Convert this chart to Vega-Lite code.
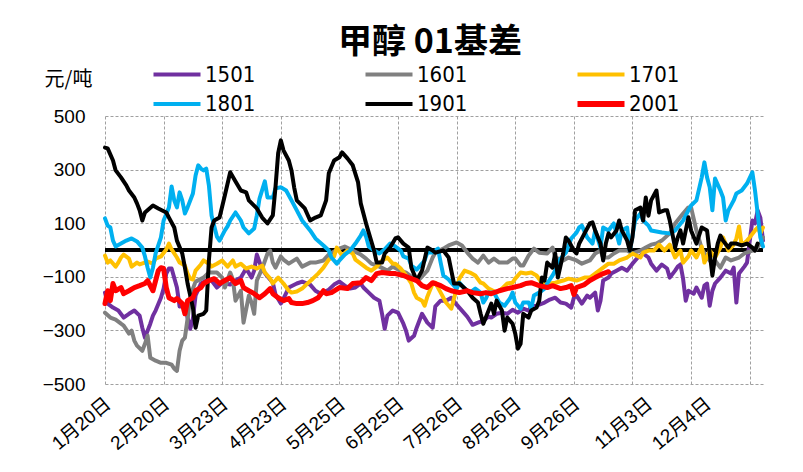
{
"$schema":"https://vega.github.io/schema/vega-lite/v6.json",
"width":658,"height":268,
"autosize":{"type":"none"},
"padding":{"left":105,"top":116,"right":40,"bottom":88},
"background":"white",
"title":{"text":"甲醇 01基差","font":"Noto Sans CJK SC","fontSize":34,"fontWeight":"bold","color":"#000","anchor":"middle","offset":3,"dx":-4},
"datasets":{
"zero":[{"i":0,"v":0},{"i":247,"v":0}],
"s1501":[{"i":0,"v":-159},{"i":1,"v":-200},{"i":3,"v":-215},{"i":5,"v":-226},{"i":7,"v":-252},{"i":9,"v":-238},{"i":11,"v":-226},{"i":13,"v":-245},{"i":14,"v":-290},{"i":15,"v":-327},{"i":17,"v":-275},{"i":18,"v":-245},{"i":19,"v":-226},{"i":21,"v":-178},{"i":22,"v":-144},{"i":23,"v":-88},{"i":24,"v":-69},{"i":25,"v":-69},{"i":27,"v":-140},{"i":28,"v":-211},{"i":29,"v":-208},{"i":30,"v":-208},{"i":31,"v":-252},{"i":32,"v":-294},{"i":33,"v":-256},{"i":34,"v":-170},{"i":36,"v":-125},{"i":38,"v":-114},{"i":40,"v":-114},{"i":42,"v":-140},{"i":44,"v":-122},{"i":47,"v":-129},{"i":49,"v":-114},{"i":51,"v":-103},{"i":53,"v":-69},{"i":55,"v":-103},{"i":56,"v":-77},{"i":57,"v":-17},{"i":59,"v":-73},{"i":61,"v":-99},{"i":63,"v":-122},{"i":64,"v":-166},{"i":66,"v":-200},{"i":67,"v":-181},{"i":69,"v":-140},{"i":72,"v":-125},{"i":74,"v":-118},{"i":77,"v":-129},{"i":79,"v":-152},{"i":81,"v":-163},{"i":84,"v":-148},{"i":86,"v":-129},{"i":88,"v":-118},{"i":90,"v":-133},{"i":92,"v":-144},{"i":94,"v":-140},{"i":96,"v":-125},{"i":97,"v":-140},{"i":99,"v":-159},{"i":101,"v":-178},{"i":103,"v":-189},{"i":104,"v":-238},{"i":105,"v":-294},{"i":106,"v":-245},{"i":108,"v":-226},{"i":110,"v":-234},{"i":112,"v":-275},{"i":113,"v":-301},{"i":114,"v":-338},{"i":116,"v":-320},{"i":117,"v":-290},{"i":119,"v":-238},{"i":121,"v":-271},{"i":123,"v":-290},{"i":124,"v":-210},{"i":126,"v":-189},{"i":128,"v":-189},{"i":130,"v":-178},{"i":132,"v":-204},{"i":134,"v":-226},{"i":136,"v":-249},{"i":138,"v":-279},{"i":140,"v":-271},{"i":142,"v":-264},{"i":144,"v":-249},{"i":145,"v":-252},{"i":147,"v":-238},{"i":149,"v":-234},{"i":151,"v":-238},{"i":153,"v":-223},{"i":155,"v":-234},{"i":157,"v":-219},{"i":159,"v":-226},{"i":160,"v":-211},{"i":162,"v":-208},{"i":165,"v":-196},{"i":167,"v":-185},{"i":169,"v":-178},{"i":171,"v":-196},{"i":173,"v":-200},{"i":175,"v":-215},{"i":176,"v":-178},{"i":177,"v":-170},{"i":179,"v":-200},{"i":181,"v":-170},{"i":182,"v":-178},{"i":184,"v":-159},{"i":185,"v":-226},{"i":186,"v":-189},{"i":187,"v":-114},{"i":189,"v":-103},{"i":190,"v":-88},{"i":192,"v":-77},{"i":194,"v":-66},{"i":196,"v":-77},{"i":198,"v":-51},{"i":200,"v":-28},{"i":202,"v":-13},{"i":204,"v":-28},{"i":205,"v":-51},{"i":207,"v":-77},{"i":209,"v":-54},{"i":211,"v":-69},{"i":212,"v":-103},{"i":214,"v":-77},{"i":215,"v":-62},{"i":216,"v":-54},{"i":217,"v":-107},{"i":218,"v":-189},{"i":219,"v":-152},{"i":221,"v":-163},{"i":222,"v":-140},{"i":224,"v":-178},{"i":225,"v":-133},{"i":226,"v":-125},{"i":227,"v":-208},{"i":228,"v":-152},{"i":229,"v":-125},{"i":231,"v":-103},{"i":233,"v":-77},{"i":235,"v":-88},{"i":236,"v":-66},{"i":237,"v":-196},{"i":238,"v":-88},{"i":240,"v":-62},{"i":241,"v":-47},{"i":243,"v":110},{"i":244,"v":99},{"i":245,"v":148},{"i":246,"v":121},{"i":247,"v":35}],
"s1601":[{"i":0,"v":-234},{"i":2,"v":-252},{"i":4,"v":-260},{"i":6,"v":-275},{"i":7,"v":-282},{"i":9,"v":-312},{"i":10,"v":-301},{"i":11,"v":-338},{"i":12,"v":-357},{"i":14,"v":-376},{"i":15,"v":-350},{"i":16,"v":-320},{"i":17,"v":-402},{"i":19,"v":-413},{"i":21,"v":-421},{"i":23,"v":-421},{"i":25,"v":-428},{"i":26,"v":-443},{"i":27,"v":-451},{"i":28,"v":-376},{"i":29,"v":-338},{"i":30,"v":-327},{"i":31,"v":-256},{"i":32,"v":-178},{"i":33,"v":-144},{"i":34,"v":-118},{"i":37,"v":-103},{"i":39,"v":-84},{"i":42,"v":-84},{"i":44,"v":-103},{"i":45,"v":-140},{"i":47,"v":-84},{"i":48,"v":-110},{"i":49,"v":-189},{"i":51,"v":-152},{"i":52,"v":-271},{"i":54,"v":-170},{"i":55,"v":-196},{"i":56,"v":-238},{"i":57,"v":-114},{"i":59,"v":-69},{"i":61,"v":-13},{"i":62,"v":-2},{"i":63,"v":-47},{"i":64,"v":-66},{"i":66,"v":-24},{"i":67,"v":-36},{"i":69,"v":-51},{"i":72,"v":-32},{"i":74,"v":-62},{"i":77,"v":-47},{"i":79,"v":-47},{"i":82,"v":-39},{"i":84,"v":-17},{"i":86,"v":-6},{"i":88,"v":5},{"i":90,"v":13},{"i":93,"v":-2},{"i":96,"v":-17},{"i":98,"v":-32},{"i":100,"v":-51},{"i":103,"v":-62},{"i":106,"v":-77},{"i":108,"v":-62},{"i":111,"v":-77},{"i":113,"v":-84},{"i":115,"v":-99},{"i":118,"v":-110},{"i":121,"v":-77},{"i":123,"v":-28},{"i":124,"v":-10},{"i":127,"v":5},{"i":129,"v":17},{"i":132,"v":28},{"i":134,"v":17},{"i":136,"v":-10},{"i":138,"v":-32},{"i":140,"v":-47},{"i":142,"v":-21},{"i":144,"v":-47},{"i":146,"v":-32},{"i":148,"v":-47},{"i":151,"v":-47},{"i":153,"v":-32},{"i":154,"v":-32},{"i":156,"v":-58},{"i":157,"v":-58},{"i":159,"v":-21},{"i":161,"v":5},{"i":163,"v":-10},{"i":166,"v":-13},{"i":168,"v":9},{"i":169,"v":-28},{"i":172,"v":-39},{"i":174,"v":-28},{"i":177,"v":-39},{"i":179,"v":-51},{"i":182,"v":-39},{"i":184,"v":-13},{"i":186,"v":-2},{"i":187,"v":-28},{"i":189,"v":-28},{"i":191,"v":-13},{"i":193,"v":-2},{"i":196,"v":-2},{"i":198,"v":-13},{"i":201,"v":-2},{"i":203,"v":9},{"i":205,"v":20},{"i":207,"v":24},{"i":209,"v":35},{"i":212,"v":62},{"i":214,"v":99},{"i":217,"v":136},{"i":219,"v":159},{"i":220,"v":159},{"i":222,"v":73},{"i":224,"v":5},{"i":226,"v":-28},{"i":228,"v":-51},{"i":229,"v":-39},{"i":231,"v":-66},{"i":233,"v":-28},{"i":235,"v":-39},{"i":238,"v":-28},{"i":240,"v":-13},{"i":243,"v":-2},{"i":244,"v":-2},{"i":246,"v":24},{"i":247,"v":47}],
"s1701":[{"i":0,"v":-21},{"i":1,"v":-47},{"i":2,"v":-39},{"i":4,"v":-62},{"i":5,"v":-47},{"i":6,"v":-28},{"i":7,"v":-17},{"i":9,"v":-32},{"i":10,"v":-62},{"i":12,"v":-47},{"i":13,"v":-54},{"i":16,"v":-43},{"i":18,"v":-51},{"i":19,"v":-32},{"i":21,"v":-24},{"i":23,"v":2},{"i":24,"v":24},{"i":25,"v":2},{"i":27,"v":-28},{"i":28,"v":-47},{"i":30,"v":-58},{"i":31,"v":-88},{"i":32,"v":-107},{"i":33,"v":-110},{"i":34,"v":-77},{"i":36,"v":-54},{"i":37,"v":-39},{"i":39,"v":-51},{"i":40,"v":-62},{"i":42,"v":-51},{"i":44,"v":-39},{"i":46,"v":-62},{"i":48,"v":-39},{"i":49,"v":-62},{"i":51,"v":-51},{"i":53,"v":-69},{"i":55,"v":-62},{"i":57,"v":-69},{"i":59,"v":-58},{"i":60,"v":-84},{"i":62,"v":-107},{"i":63,"v":-125},{"i":65,"v":-103},{"i":67,"v":-125},{"i":69,"v":-152},{"i":70,"v":-159},{"i":72,"v":-155},{"i":74,"v":-144},{"i":76,"v":-125},{"i":78,"v":-107},{"i":80,"v":-88},{"i":82,"v":-66},{"i":84,"v":-36},{"i":86,"v":-24},{"i":87,"v":9},{"i":89,"v":-21},{"i":91,"v":-2},{"i":93,"v":-13},{"i":94,"v":-36},{"i":96,"v":-51},{"i":98,"v":-66},{"i":100,"v":-77},{"i":102,"v":-62},{"i":104,"v":-39},{"i":106,"v":-28},{"i":108,"v":-51},{"i":109,"v":-51},{"i":111,"v":-69},{"i":113,"v":-95},{"i":115,"v":-125},{"i":116,"v":-159},{"i":117,"v":-178},{"i":119,"v":-189},{"i":120,"v":-208},{"i":121,"v":-174},{"i":123,"v":-125},{"i":124,"v":-122},{"i":126,"v":-159},{"i":128,"v":-196},{"i":130,"v":-219},{"i":131,"v":-181},{"i":133,"v":-107},{"i":135,"v":-77},{"i":137,"v":-84},{"i":139,"v":-95},{"i":141,"v":-122},{"i":142,"v":-125},{"i":144,"v":-144},{"i":147,"v":-159},{"i":149,"v":-144},{"i":151,"v":-125},{"i":153,"v":-122},{"i":154,"v":-107},{"i":156,"v":-84},{"i":158,"v":-88},{"i":160,"v":-84},{"i":162,"v":-95},{"i":164,"v":-122},{"i":167,"v":-125},{"i":169,"v":-122},{"i":172,"v":-114},{"i":174,"v":-107},{"i":177,"v":-114},{"i":180,"v":-103},{"i":182,"v":-103},{"i":184,"v":-88},{"i":187,"v":-66},{"i":189,"v":-51},{"i":191,"v":-51},{"i":193,"v":-39},{"i":196,"v":-28},{"i":198,"v":-13},{"i":201,"v":-28},{"i":202,"v":-10},{"i":204,"v":-2},{"i":206,"v":-2},{"i":208,"v":20},{"i":210,"v":-2},{"i":212,"v":20},{"i":214,"v":-28},{"i":216,"v":-2},{"i":217,"v":-47},{"i":219,"v":-24},{"i":220,"v":-2},{"i":222,"v":-28},{"i":224,"v":13},{"i":225,"v":-47},{"i":227,"v":-2},{"i":229,"v":-28},{"i":231,"v":9},{"i":232,"v":47},{"i":234,"v":-2},{"i":236,"v":20},{"i":237,"v":43},{"i":238,"v":88},{"i":239,"v":17},{"i":241,"v":35},{"i":242,"v":47},{"i":244,"v":73},{"i":245,"v":84},{"i":246,"v":62},{"i":247,"v":84}],
"s1801":[{"i":0,"v":118},{"i":1,"v":91},{"i":2,"v":84},{"i":3,"v":35},{"i":4,"v":13},{"i":6,"v":24},{"i":8,"v":35},{"i":10,"v":43},{"i":12,"v":32},{"i":14,"v":9},{"i":15,"v":-24},{"i":16,"v":-66},{"i":17,"v":-103},{"i":18,"v":-66},{"i":19,"v":-13},{"i":21,"v":47},{"i":22,"v":110},{"i":24,"v":159},{"i":25,"v":237},{"i":26,"v":185},{"i":27,"v":159},{"i":28,"v":215},{"i":29,"v":185},{"i":30,"v":136},{"i":31,"v":159},{"i":33,"v":211},{"i":34,"v":278},{"i":35,"v":316},{"i":36,"v":304},{"i":37,"v":297},{"i":38,"v":304},{"i":39,"v":241},{"i":40,"v":129},{"i":42,"v":50},{"i":43,"v":35},{"i":45,"v":73},{"i":46,"v":88},{"i":47,"v":110},{"i":48,"v":125},{"i":49,"v":140},{"i":51,"v":110},{"i":52,"v":84},{"i":54,"v":62},{"i":56,"v":80},{"i":57,"v":129},{"i":58,"v":192},{"i":60,"v":256},{"i":61,"v":196},{"i":63,"v":196},{"i":64,"v":230},{"i":66,"v":234},{"i":68,"v":222},{"i":70,"v":185},{"i":72,"v":148},{"i":74,"v":110},{"i":77,"v":73},{"i":79,"v":43},{"i":82,"v":17},{"i":84,"v":-2},{"i":85,"v":-28},{"i":87,"v":-51},{"i":88,"v":-39},{"i":90,"v":-17},{"i":92,"v":-2},{"i":94,"v":24},{"i":96,"v":54},{"i":97,"v":73},{"i":98,"v":50},{"i":99,"v":13},{"i":101,"v":-2},{"i":103,"v":-13},{"i":105,"v":2},{"i":107,"v":24},{"i":109,"v":13},{"i":111,"v":-2},{"i":112,"v":-24},{"i":114,"v":-32},{"i":115,"v":-58},{"i":117,"v":-73},{"i":118,"v":-62},{"i":120,"v":-39},{"i":121,"v":-9},{"i":123,"v":-9},{"i":125,"v":5},{"i":126,"v":-47},{"i":127,"v":-95},{"i":129,"v":-110},{"i":130,"v":-122},{"i":132,"v":-144},{"i":133,"v":-122},{"i":135,"v":-144},{"i":137,"v":-159},{"i":139,"v":-144},{"i":141,"v":-159},{"i":142,"v":-196},{"i":143,"v":-181},{"i":144,"v":-159},{"i":146,"v":-159},{"i":148,"v":-196},{"i":150,"v":-208},{"i":152,"v":-181},{"i":153,"v":-159},{"i":154,"v":-196},{"i":156,"v":-219},{"i":157,"v":-196},{"i":159,"v":-196},{"i":160,"v":-219},{"i":161,"v":-170},{"i":163,"v":-159},{"i":165,"v":-144},{"i":166,"v":-125},{"i":168,"v":-95},{"i":170,"v":-58},{"i":171,"v":-32},{"i":173,"v":-10},{"i":175,"v":43},{"i":177,"v":65},{"i":178,"v":84},{"i":179,"v":91},{"i":181,"v":47},{"i":183,"v":24},{"i":184,"v":73},{"i":186,"v":9},{"i":187,"v":84},{"i":189,"v":73},{"i":191,"v":99},{"i":193,"v":24},{"i":194,"v":73},{"i":196,"v":84},{"i":197,"v":-2},{"i":199,"v":110},{"i":201,"v":136},{"i":202,"v":110},{"i":204,"v":91},{"i":205,"v":73},{"i":207,"v":69},{"i":209,"v":65},{"i":212,"v":62},{"i":214,"v":73},{"i":217,"v":110},{"i":219,"v":148},{"i":220,"v":166},{"i":222,"v":185},{"i":224,"v":271},{"i":225,"v":327},{"i":226,"v":271},{"i":227,"v":234},{"i":228,"v":148},{"i":229,"v":267},{"i":231,"v":222},{"i":232,"v":196},{"i":233,"v":110},{"i":234,"v":148},{"i":236,"v":185},{"i":237,"v":211},{"i":239,"v":222},{"i":241,"v":248},{"i":243,"v":290},{"i":244,"v":222},{"i":245,"v":136},{"i":246,"v":47},{"i":247,"v":13}],
"s1901":[{"i":0,"v":382},{"i":1,"v":379},{"i":3,"v":334},{"i":4,"v":297},{"i":6,"v":271},{"i":8,"v":241},{"i":9,"v":222},{"i":11,"v":196},{"i":12,"v":174},{"i":13,"v":148},{"i":14,"v":110},{"i":15,"v":140},{"i":18,"v":166},{"i":20,"v":155},{"i":23,"v":140},{"i":24,"v":121},{"i":26,"v":84},{"i":27,"v":35},{"i":29,"v":-13},{"i":30,"v":-66},{"i":31,"v":-125},{"i":33,"v":-215},{"i":34,"v":-290},{"i":35,"v":-245},{"i":37,"v":-238},{"i":38,"v":-226},{"i":39,"v":-39},{"i":40,"v":84},{"i":41,"v":110},{"i":43,"v":121},{"i":45,"v":204},{"i":47,"v":290},{"i":49,"v":256},{"i":51,"v":222},{"i":53,"v":215},{"i":54,"v":185},{"i":57,"v":155},{"i":59,"v":121},{"i":61,"v":99},{"i":63,"v":129},{"i":64,"v":234},{"i":65,"v":361},{"i":66,"v":409},{"i":67,"v":372},{"i":69,"v":334},{"i":70,"v":297},{"i":71,"v":234},{"i":72,"v":185},{"i":75,"v":155},{"i":77,"v":110},{"i":79,"v":121},{"i":81,"v":129},{"i":83,"v":185},{"i":84,"v":286},{"i":86,"v":334},{"i":88,"v":346},{"i":89,"v":364},{"i":91,"v":342},{"i":93,"v":316},{"i":95,"v":252},{"i":96,"v":174},{"i":98,"v":99},{"i":99,"v":65},{"i":101,"v":-2},{"i":102,"v":-47},{"i":104,"v":-47},{"i":105,"v":-13},{"i":107,"v":9},{"i":109,"v":43},{"i":110,"v":47},{"i":112,"v":24},{"i":114,"v":9},{"i":115,"v":-66},{"i":117,"v":-114},{"i":119,"v":-77},{"i":121,"v":9},{"i":123,"v":-2},{"i":124,"v":-10},{"i":127,"v":-2},{"i":129,"v":-28},{"i":130,"v":-77},{"i":131,"v":-125},{"i":133,"v":-125},{"i":136,"v":-152},{"i":138,"v":-178},{"i":140,"v":-196},{"i":141,"v":-238},{"i":142,"v":-275},{"i":144,"v":-226},{"i":145,"v":-200},{"i":146,"v":-238},{"i":147,"v":-189},{"i":149,"v":-226},{"i":150,"v":-301},{"i":151,"v":-252},{"i":153,"v":-275},{"i":154,"v":-312},{"i":155,"v":-368},{"i":156,"v":-350},{"i":157,"v":-238},{"i":159,"v":-252},{"i":160,"v":-226},{"i":162,"v":-215},{"i":163,"v":-189},{"i":164,"v":-103},{"i":165,"v":-114},{"i":166,"v":-47},{"i":168,"v":-66},{"i":169,"v":-13},{"i":170,"v":-103},{"i":172,"v":-13},{"i":173,"v":47},{"i":174,"v":35},{"i":176,"v":-2},{"i":177,"v":-13},{"i":178,"v":24},{"i":180,"v":62},{"i":182,"v":99},{"i":183,"v":103},{"i":184,"v":73},{"i":186,"v":24},{"i":187,"v":-39},{"i":188,"v":24},{"i":189,"v":62},{"i":190,"v":47},{"i":192,"v":73},{"i":193,"v":110},{"i":194,"v":73},{"i":196,"v":35},{"i":197,"v":-2},{"i":198,"v":47},{"i":199,"v":148},{"i":201,"v":158},{"i":202,"v":110},{"i":203,"v":196},{"i":204,"v":128},{"i":205,"v":185},{"i":207,"v":222},{"i":208,"v":140},{"i":210,"v":148},{"i":211,"v":148},{"i":212,"v":110},{"i":214,"v":9},{"i":215,"v":47},{"i":216,"v":73},{"i":217,"v":24},{"i":219,"v":122},{"i":220,"v":73},{"i":222,"v":24},{"i":224,"v":84},{"i":226,"v":73},{"i":228,"v":-95},{"i":229,"v":-28},{"i":230,"v":24},{"i":231,"v":54},{"i":232,"v":35},{"i":234,"v":9},{"i":235,"v":24},{"i":237,"v":24},{"i":239,"v":17},{"i":241,"v":24},{"i":243,"v":9},{"i":244,"v":-2},{"i":245,"v":24}],
"s2001":[{"i":0,"v":-200},{"i":1,"v":-152},{"i":2,"v":-189},{"i":3,"v":-125},{"i":4,"v":-152},{"i":6,"v":-140},{"i":7,"v":-163},{"i":9,"v":-152},{"i":11,"v":-140},{"i":13,"v":-133},{"i":15,"v":-125},{"i":16,"v":-114},{"i":18,"v":-152},{"i":20,"v":-77},{"i":21,"v":-66},{"i":22,"v":-69},{"i":23,"v":-140},{"i":24,"v":-178},{"i":26,"v":-189},{"i":27,"v":-181},{"i":29,"v":-200},{"i":30,"v":-238},{"i":31,"v":-189},{"i":33,"v":-178},{"i":34,"v":-152},{"i":36,"v":-140},{"i":37,"v":-125},{"i":39,"v":-114},{"i":41,"v":-107},{"i":43,"v":-125},{"i":45,"v":-114},{"i":47,"v":-103},{"i":49,"v":-125},{"i":51,"v":-114},{"i":52,"v":-140},{"i":54,"v":-152},{"i":56,"v":-163},{"i":58,"v":-178},{"i":60,"v":-163},{"i":62,"v":-144},{"i":63,"v":-163},{"i":65,"v":-178},{"i":67,"v":-189},{"i":69,"v":-181},{"i":70,"v":-196},{"i":72,"v":-200},{"i":74,"v":-200},{"i":76,"v":-196},{"i":78,"v":-189},{"i":80,"v":-178},{"i":82,"v":-152},{"i":83,"v":-163},{"i":85,"v":-159},{"i":88,"v":-140},{"i":91,"v":-144},{"i":93,"v":-125},{"i":96,"v":-122},{"i":98,"v":-103},{"i":100,"v":-114},{"i":102,"v":-88},{"i":104,"v":-84},{"i":107,"v":-88},{"i":109,"v":-88},{"i":112,"v":-95},{"i":114,"v":-103},{"i":117,"v":-114},{"i":119,"v":-133},{"i":121,"v":-140},{"i":123,"v":-122},{"i":126,"v":-133},{"i":128,"v":-144},{"i":130,"v":-152},{"i":133,"v":-159},{"i":136,"v":-152},{"i":138,"v":-159},{"i":141,"v":-163},{"i":143,"v":-159},{"i":145,"v":-163},{"i":148,"v":-152},{"i":151,"v":-144},{"i":153,"v":-140},{"i":156,"v":-133},{"i":158,"v":-125},{"i":160,"v":-122},{"i":163,"v":-133},{"i":166,"v":-140},{"i":168,"v":-133},{"i":171,"v":-144},{"i":173,"v":-140},{"i":175,"v":-133},{"i":176,"v":-166},{"i":177,"v":-140},{"i":180,"v":-129},{"i":182,"v":-114},{"i":184,"v":-103},{"i":187,"v":-88},{"i":189,"v":-81}]
},
"encoding":{
 "x":{"field":"i","type":"quantitative","scale":{"domain":[0,247],"nice":false,"zero":false},
  "axis":{"values":[0,22,44,66,88,110,132,154,176,198,220,242],"labelExpr":"['1月20日','2月20日','3月23日','4月23日','5月25日','6月25日','7月26日','8月26日','9月26日','11月3日','12月4日',''][round(datum.value/22)]","labelAngle":-40,"labelFontSize":19,"labelPadding":10,"labelOffset":{"condition":{"test":"datum.value >= 198","value":11},"value":-3},"labelFont":"Liberation Sans, Noto Sans CJK SC","title":null,"labelOverlap":false,"labelBound":false}},
 "y":{"field":"v","type":"quantitative","scale":{"domain":[-500,500],"nice":false},
  "axis":{"values":[-500,-300,-100,100,300,500],"labelFontSize":19,"labelPadding":20,"labelFont":"Liberation Sans","title":"元/吨","titleAngle":0,"titleX":-37,"titleY":-37,"titleAlign":"center","titleBaseline":"middle","titleFont":"Noto Sans CJK SC","titleFontSize":20,"titleFontWeight":"normal","titleColor":"#000"}}
},
"layer":[
{"data":{"name":"zero"},"mark":{"type":"line","color":"#000000","strokeWidth":4}},
{"data":{"name":"s1501"},"mark":{"type":"line","strokeWidth":4,"strokeJoin":"round","strokeCap":"round"},
 "encoding":{"color":{"datum":"1501","type":"nominal",
  "scale":{"domain":["1501","1601","1701","1801","1901","2001"],"range":["#7030A0","#808080","#FFC000","#00B0F0","#000000","#FF0000"]},
  "legend":{"title":null,"orient":"none","legendX":61,"legendY":-53,"direction":"horizontal","columns":3,"symbolType":"stroke","symbolSize":2209,"symbolStrokeWidth":4,"labelFont":"Liberation Sans Narrow, DejaVu Sans Condensed","labelFontSize":22,"labelColor":"#000","labelOffset":17,"columnPadding":97,"rowPadding":6,"gridAlign":"all",
   "encode":{"symbols":{"update":{"strokeWidth":{"signal":"datum.value === '2001' ? 6 : 4"}}}}}}}},
{"data":{"name":"s1601"},"mark":{"type":"line","strokeWidth":4,"strokeJoin":"round","strokeCap":"round"},"encoding":{"color":{"datum":"1601","type":"nominal"}}},
{"data":{"name":"s1701"},"mark":{"type":"line","strokeWidth":4,"strokeJoin":"round","strokeCap":"round"},"encoding":{"color":{"datum":"1701","type":"nominal"}}},
{"data":{"name":"s1801"},"mark":{"type":"line","strokeWidth":4,"strokeJoin":"round","strokeCap":"round"},"encoding":{"color":{"datum":"1801","type":"nominal"}}},
{"data":{"name":"s1901"},"mark":{"type":"line","strokeWidth":4,"strokeJoin":"round","strokeCap":"round"},"encoding":{"color":{"datum":"1901","type":"nominal"}}},
{"data":{"name":"s2001"},"mark":{"type":"line","strokeWidth":5,"strokeJoin":"round","strokeCap":"round"},"encoding":{"color":{"datum":"2001","type":"nominal"}}}
],
"config":{"view":{"stroke":null},
 "axis":{"grid":true,"gridColor":"#a0a0a0","gridDash":[3,2],"gridWidth":1,"domain":false,"ticks":false,"labelColor":"#000"}}
}
